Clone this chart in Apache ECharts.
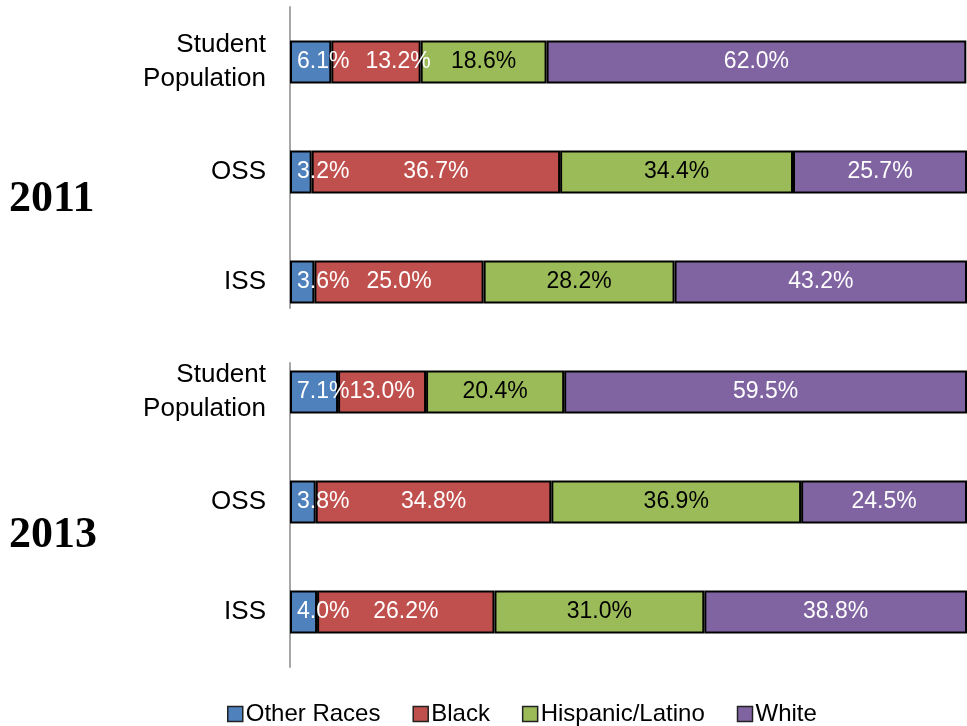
<!DOCTYPE html>
<html>
<head>
<meta charset="utf-8">
<script src="https://cdn.jsdelivr.net/npm/echarts@6/dist/echarts.min.js"></script>
<style>
html,body{margin:0;padding:0;background:#fff;}
#chart{width:967px;height:726px;}
</style>
</head>
<body>
<div id="chart"></div>
<script>
const categories = ['Student\nPopulation', 'OSS', 'ISS'];
const years = ['2011', '2013'];
const seriesNames = ['Other Races', 'Black', 'Hispanic/Latino', 'White'];
const colors = ['#4F81BD', '#C0504D', '#9BBB59', '#8064A2'];
const labelColors = ['#ffffff', '#ffffff', '#000000', '#ffffff'];

// 2011 values, per race, in category order
const other2011 = [6.1, 3.2, 3.6];
const black2011 = [13.2, 36.7, 25.0];
const hisp2011 = [18.6, 34.4, 28.2];
const white2011 = [62.0, 25.7, 43.2];

// 2013 values
const other2013 = [7.1, 3.8, 4.0];
const black2013 = [13.0, 34.8, 26.2];
const hisp2013 = [20.4, 36.9, 31.0];
const white2013 = [59.5, 24.5, 38.8];

const data2011 = [other2011, black2011, hisp2011, white2011];
const data2013 = [other2013, black2013, hisp2013, white2013];

const sansFont = 'Liberation Sans';
const labelSize = 23;
const labelDist = 7;
const fmt = v => v.toFixed(1) + '%';

const measureCtx = document.createElement('canvas').getContext('2d');
measureCtx.font = labelSize + 'px "' + sansFont + '"';
const textW = s => measureCtx.measureText(s).width;

function makeSeries(dataSets, axisIndex) {
  return dataSets.map((d, i) => ({
    name: seriesNames[i],
    type: 'bar',
    stack: 'total' + axisIndex,
    xAxisIndex: axisIndex,
    yAxisIndex: axisIndex,
    barWidth: 43,
    clip: false,
    data: d,
    itemStyle: { color: colors[i], borderColor: '#000', borderWidth: 2 },
    label: {
      show: true,
      position: i === 0 ? 'insideLeft' : 'inside',
      distance: labelDist,
      color: labelColors[i],
      fontFamily: sansFont,
      fontSize: labelSize,
      formatter: p => fmt(p.value)
    },
    // like the source, push a label right when it would run into the small first segment's label
    labelLayout: i === 1 ? function (params) {
      const otherVal = dataSets[0][params.dataIndex];
      const barLeft = params.rect.x - (params.rect.x - 290);
      const otherEnd = 290 + labelDist + textW(fmt(otherVal));
      if (params.labelRect.x < otherEnd) {
        return { dx: otherEnd + 16 - params.labelRect.x };
      }
      return {};
    } : undefined,
    z: i === 0 ? 3 : 2,
    emphasis: { disabled: true }
  }));
}

const chart = echarts.init(document.getElementById('chart'));
const barGrid = (top) => ({ left: 290, top: top, width: 685, height: 330, containLabel: false });
const yearStyle = { fontFamily: 'Liberation Serif', fontWeight: 'bold', fontSize: 44, color: '#000' };
const option = {
  animation: false,
  title: [
    { text: years[0], left: 4, top: 173, textStyle: yearStyle },
    { text: years[1], left: 4, top: 509, textStyle: yearStyle }
  ],
  legend: {
    data: seriesNames,
    left: 222,
    top: 697,
    icon: 'rect',
    itemWidth: 15,
    itemHeight: 15,
    itemGap: 32,
    textStyle: { fontFamily: sansFont, fontSize: 24, color: '#000', padding: [0, 0, 0, -2] },
    itemStyle: { borderColor: '#222', borderWidth: 1.5 }
  },
  grid: [
    barGrid(7),
    barGrid(337),
    { left: 290, top: 7, width: 10, height: 301 },
    { left: 290, top: 363, width: 10, height: 304 }
  ],
  xAxis: [0, 1, 2, 3].map(i => ({
    type: 'value', gridIndex: i, min: 0, max: i < 2 ? 100 : 1, show: false
  })),
  yAxis: [
    ...[0, 1].map(i => ({
      type: 'category', gridIndex: i, data: categories, inverse: true,
      axisLine: { show: false }, axisTick: { show: false },
      axisLabel: { fontFamily: sansFont, fontSize: 26, color: '#000', margin: 24, align: 'right', lineHeight: 34 }
    })),
    ...[2, 3].map(i => ({
      type: 'value', gridIndex: i, min: 0, max: 1,
      axisLine: { show: true, lineStyle: { color: '#A6A6A6', width: 2 } },
      axisTick: { show: false }, axisLabel: { show: false }, splitLine: { show: false }
    }))
  ],
  series: [...makeSeries(data2011, 0), ...makeSeries(data2013, 1)]
};
chart.setOption(option);
</script>
</body>
</html>
